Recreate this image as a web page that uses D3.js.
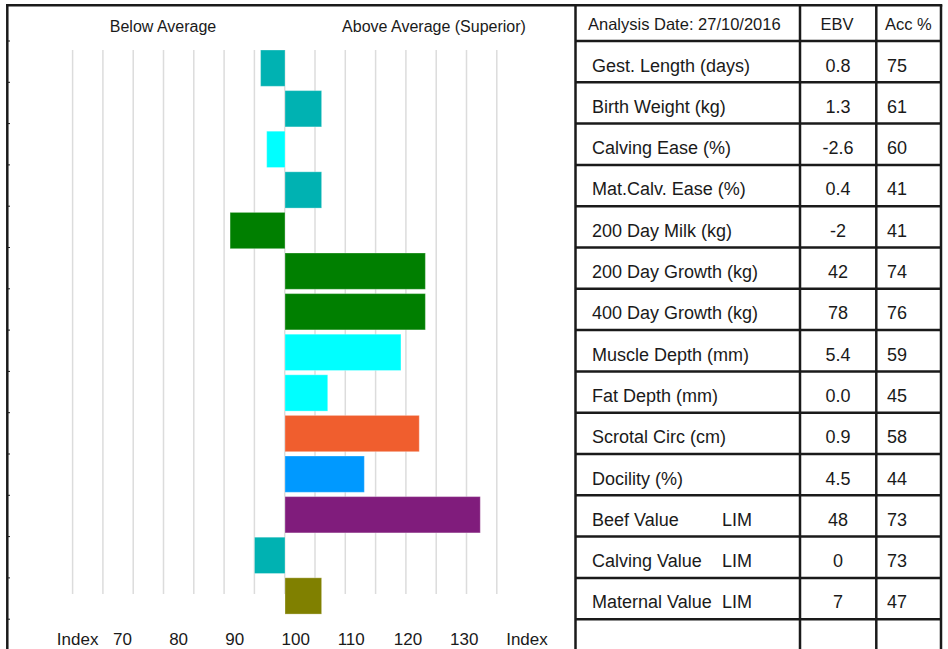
<!DOCTYPE html>
<html>
<head>
<meta charset="utf-8">
<script src="https://cdn.jsdelivr.net/npm/d3@7"></script>
<style>
  html, body { margin: 0; padding: 0; background: #fff; }
  svg { display: block; font-family: "Liberation Sans", Arial, sans-serif; }
</style>
</head>
<body>
<svg id="chart" width="948" height="649"></svg>
<script>
// ---- data ----
const traits = ["Gest. Length (days)", "Birth Weight (kg)", "Calving Ease (%)", "Mat.Calv. Ease (%)",
  "200 Day Milk (kg)", "200 Day Growth (kg)", "400 Day Growth (kg)", "Muscle Depth (mm)",
  "Fat Depth (mm)", "Scrotal Circ (cm)", "Docility (%)", "Beef Value", "Calving Value", "Maternal Value"];
const traitSuffix = ["", "", "", "", "", "", "", "", "", "", "", "LIM", "LIM", "LIM"];
const ebv = ["0.8", "1.3", "-2.6", "0.4", "-2", "42", "78", "5.4", "0.0", "0.9", "4.5", "48", "0", "7"];
const acc = ["75", "61", "60", "41", "41", "74", "76", "59", "45", "58", "44", "73", "73", "47"];
const indexValues = [96, 106, 97, 106, 91, 123, 123, 119, 107, 122, 113, 132, 95, 106];
const traitGroup = ["calving", "calving", "ease", "calving", "growth", "growth", "growth", "carcase",
  "carcase", "fertility", "temperament", "beef", "calving", "maternal"];
const gridValues = d3.range(65, 136, 5);
const tickValues = [60, 70, 80, 90, 100, 110, 120, 130, 140];
const tickLabels = ["Index", "70", "80", "90", "100", "110", "120", "130", "Index"];
const headerLabels = ["Below Average", "Above Average (Superior)"];
const tableHeader = ["Analysis Date: 27/10/2016", "EBV", "Acc %"];

// ---- setup ----
const svg = d3.select("#chart");
const ink = "#1a1a1a";

const x = d3.scaleLinear().domain([65, 135]).range([71.4, 498.6]);
const xGrid = d3.scaleLinear().domain([65, 135]).range([72.6, 496.8]);
const xLabel = d3.scaleLinear().domain([60, 140]).range([56.8, 506.2]);
const y = d3.scaleBand().domain(d3.range(traits.length)).range([47.85, 616.25])
  .paddingInner(0.106).paddingOuter(0.053);
const rowY = d3.scaleBand().domain(d3.range(traits.length + 1)).range([41, 41 + 15 * 41.3]);
const color = d3.scaleOrdinal()
  .domain(["calving", "ease", "growth", "carcase", "fertility", "temperament", "beef", "maternal"])
  .range(["#00b2b2", "#00ffff", "#007f00", "#00ffff", "#f05e2e", "#0099ff", "#801c7c", "#808000"]);

// gridlines
svg.append("g").selectAll("line").data(gridValues).join("line")
  .attr("x1", d => xGrid(d)).attr("x2", d => xGrid(d))
  .attr("y1", 50).attr("y2", 594)
  .attr("stroke", "#dcdcdc").attr("stroke-width", 1.5);

// bars
svg.append("g").selectAll("rect").data(indexValues).join("rect")
  .attr("x", d => Math.min(x(100), x(d)))
  .attr("width", d => Math.abs(x(d) - x(100)))
  .attr("y", (d, i) => y(i))
  .attr("height", y.bandwidth())
  .attr("fill", (d, i) => color(traitGroup[i]))
  .attr("stroke", "#fff").attr("stroke-opacity", 0.3).attr("stroke-width", 1);

// header labels
svg.append("g").selectAll("text").data(headerLabels).join("text")
  .attr("x", (d, i) => i === 0 ? 163 : 434)
  .attr("y", 32.3)
  .attr("text-anchor", "middle")
  .attr("font-size", 16)
  .attr("fill", ink)
  .text(d => d);

// axis labels
svg.append("g").selectAll("text").data(tickValues).join("text")
  .attr("x", d => xLabel(d))
  .attr("y", 645)
  .attr("font-size", 17)
  .attr("fill", ink)
  .text((d, i) => tickLabels[i]);

// frame
const frame = svg.append("g").attr("stroke", ink).attr("stroke-width", 2.5).attr("fill", "none");
frame.append("line").attr("x1", 6).attr("x2", 942.3).attr("y1", 5.3).attr("y2", 5.3);
frame.append("line").attr("x1", 7.3).attr("x2", 7.3).attr("y1", 5.3).attr("y2", 649);
[575.5, 800, 876.3, 941].forEach(xx => {
  frame.append("line").attr("x1", xx).attr("x2", xx).attr("y1", 5.3).attr("y2", 649);
});
// table row lines
frame.selectAll(".rowline").data(d3.range(traits.length + 1)).join("line")
  .attr("class", "rowline")
  .attr("x1", 575.5).attr("x2", 941)
  .attr("y1", d => rowY(d)).attr("y2", d => rowY(d));
// small ticks on left border
frame.selectAll(".ltick").data(d3.range(traits.length + 1)).join("line")
  .attr("class", "ltick")
  .attr("x1", 7.3).attr("x2", 10)
  .attr("y1", d => rowY(d)).attr("y2", d => rowY(d))
  .attr("stroke-width", 1);

// table header
const th = svg.append("g").attr("font-size", 16.5).attr("fill", ink);
th.append("text").attr("x", 588).attr("y", 30).text(tableHeader[0]);
th.append("text").attr("x", 837).attr("y", 30).attr("text-anchor", "middle").text(tableHeader[1]);
th.append("text").attr("x", 885).attr("y", 30).text(tableHeader[2]);

// table rows
const rows = svg.append("g").attr("font-size", 18).attr("fill", ink)
  .selectAll("g").data(traits).join("g")
  .attr("transform", (d, i) => `translate(0,${rowY(i) + 30.5})`);
rows.append("text").attr("x", 592).text(d => d);
rows.append("text").attr("x", 752).attr("text-anchor", "end").text((d, i) => traitSuffix[i]);
rows.append("text").attr("x", 838).attr("text-anchor", "middle").text((d, i) => ebv[i]);
rows.append("text").attr("x", 887).text((d, i) => acc[i]);
</script>
</body>
</html>
